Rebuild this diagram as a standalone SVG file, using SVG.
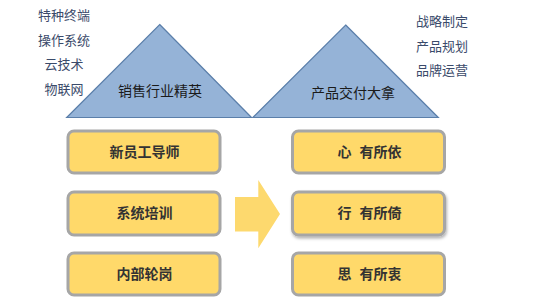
<svg xmlns="http://www.w3.org/2000/svg" width="557" height="308" viewBox="0 0 557 308">
<defs>
<style>
.tri{fill:#95B3D7;stroke:#5B7FAA;stroke-width:1.2}
.side{font-family:"Noto Sans CJK SC","Liberation Sans",sans-serif;font-size:13px;fill:#3A4A6A}
.tl{font-family:"Noto Sans CJK SC","Liberation Sans",sans-serif;font-size:14px;fill:#1a1a1a;text-anchor:middle}
.box{fill:#FFD96A;stroke:#A6A6A6;stroke-width:3}
.bt{font-family:"Noto Sans CJK SC","Liberation Sans",sans-serif;font-size:14px;font-weight:bold;fill:#333;text-anchor:middle}
</style>
<filter id="sh" x="-10%" y="-20%" width="130%" height="150%">
<feDropShadow dx="1" dy="2" stdDeviation="1.5" flood-color="#000" flood-opacity="0.3"/>
</filter>
</defs>
<g id="side-left">
<text class="side" x="64" y="19.5" text-anchor="middle">特种终端</text>
<text class="side" x="64" y="44.5" text-anchor="middle">操作系统</text>
<text class="side" x="64" y="68.5" text-anchor="middle">云技术</text>
<text class="side" x="64" y="93.5" text-anchor="middle">物联网</text>
</g>
<g id="side-right">
<text class="side" x="416" y="26">战略制定</text>
<text class="side" x="416" y="51">产品规划</text>
<text class="side" x="416" y="75">品牌运营</text>
</g>
<g id="tri-sales">
<polygon class="tri" points="159.7,24.5 251.5,117.5 66.7,117.5"/>
<text class="tl" x="160" y="95.5">销售行业精英</text>
</g>
<g id="tri-product">
<polygon class="tri" points="345.7,25 438.3,117.5 252.8,117.5"/>
<text class="tl" x="353" y="97.5">产品交付大拿</text>
</g>
<g id="box-l1">
<rect class="box" x="68" y="131" width="152" height="42" rx="6"/>
<text class="bt" x="144.5" y="156.5">新员工导师</text>
</g>
<g id="box-l2">
<rect class="box" x="68" y="192" width="152" height="43" rx="6"/>
<text class="bt" x="144.5" y="218">系统培训</text>
</g>
<g id="box-l3">
<rect class="box" x="68" y="253" width="152" height="42" rx="6"/>
<text class="bt" x="144.5" y="279">内部轮岗</text>
</g>
<g id="box-r1">
<rect class="box" x="292.5" y="131" width="152" height="42" rx="6"/>
<text class="bt" x="369.5" y="156.5">心<tspan dx="8">有所依</tspan></text>
</g>
<g id="box-r2">
<rect class="box" x="292.5" y="192" width="152" height="43" rx="6" filter="url(#sh)"/>
<text class="bt" x="369.5" y="218">行<tspan dx="8">有所倚</tspan></text>
</g>
<g id="box-r3">
<rect class="box" x="292.5" y="253" width="152" height="42" rx="6"/>
<text class="bt" x="369.5" y="279">思<tspan dx="8">有所衷</tspan></text>
</g>
<g id="connectors">
<polygon points="235,197 258.3,197 258.3,180 280,214 258.3,248.3 258.3,231.5 235,231.5" fill="#FDD96E"/>
</g>
</svg>
